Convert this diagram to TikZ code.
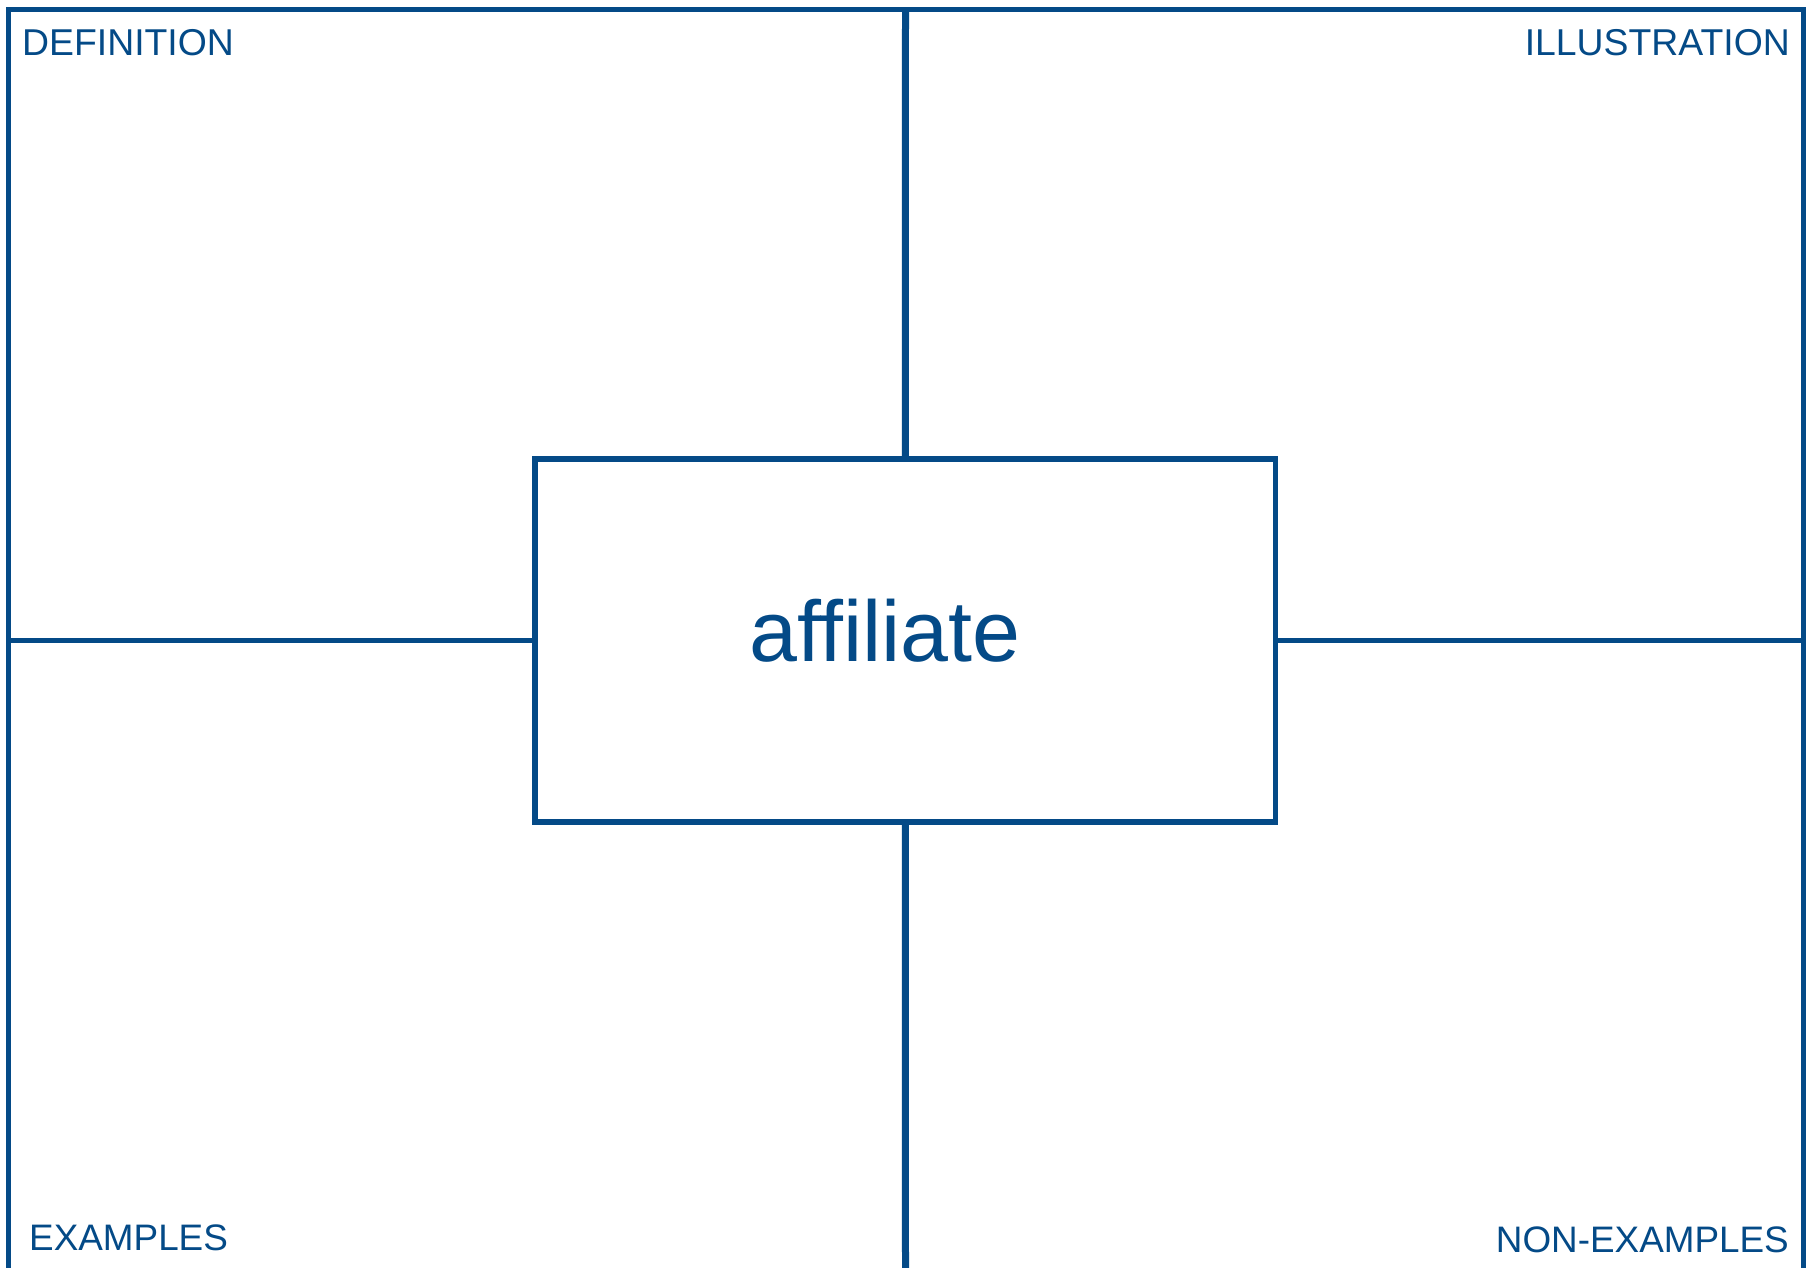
\documentclass[tikz,border=0pt]{standalone}
\usepackage{fontspec}
\setmainfont{Liberation Sans}[Ligatures=NoCommon]
\definecolor{frameblue}{RGB}{4,74,135}
\begin{document}
\begin{tikzpicture}[x=1bp,y=-1bp,
  frame/.style={draw=frameblue,line width=5bp,line cap=rect},
  midline/.style={draw=frameblue,line width=7bp},
  hline/.style={draw=frameblue,line width=4.5bp},
  corner/.style={font=\fontsize{37.5}{40}\selectfont,text=frameblue,inner sep=0pt},
  cornerb/.style={font=\fontsize{37}{40}\selectfont,text=frameblue,inner sep=0pt},
  word/.style={font=\fontsize{86.5}{90}\selectfont,text=frameblue,inner sep=0pt}]
\useasboundingbox (0,0) rectangle (1813,1267);
\fill[white] (0,0) rectangle (1813,1267);
\coordinate (bl) at (8,1272);
\coordinate (tl) at (8,9);
\coordinate (tr) at (1803,9);
\coordinate (br) at (1803,1272);
\coordinate (mt) at (905.5,9);
\coordinate (mb) at (905.5,1272);
\coordinate (lm) at (8,640.5);
\coordinate (rm) at (1803,640.5);
\node[draw=frameblue,line width=5.5bp,minimum width=740.5bp,minimum height=363bp,inner sep=0pt] (box) at (905.25,640.5) {};
\draw[frame] (bl) -- (tl) -- (tr) -- (br);
\draw[midline] (mt) -- (box.north);
\draw[midline] (box.south) -- (mb);
\draw[hline] (lm) -- (box.west);
\draw[hline] (box.east) -- (rm);
\node[corner,anchor=base west] (def) at (22,55) {DEFINITION};
\node[corner,anchor=base east] (ill) at (1790,55) {ILLUSTRATION};
\node[cornerb,anchor=base west] (ex) at (29,1250) {EXAMPLES};
\node[cornerb,anchor=base east] (nex) at (1789,1252) {NON-EXAMPLES};
\node[word,anchor=base west] (term) at (749,661) {affiliate};
\end{tikzpicture}
\end{document}
